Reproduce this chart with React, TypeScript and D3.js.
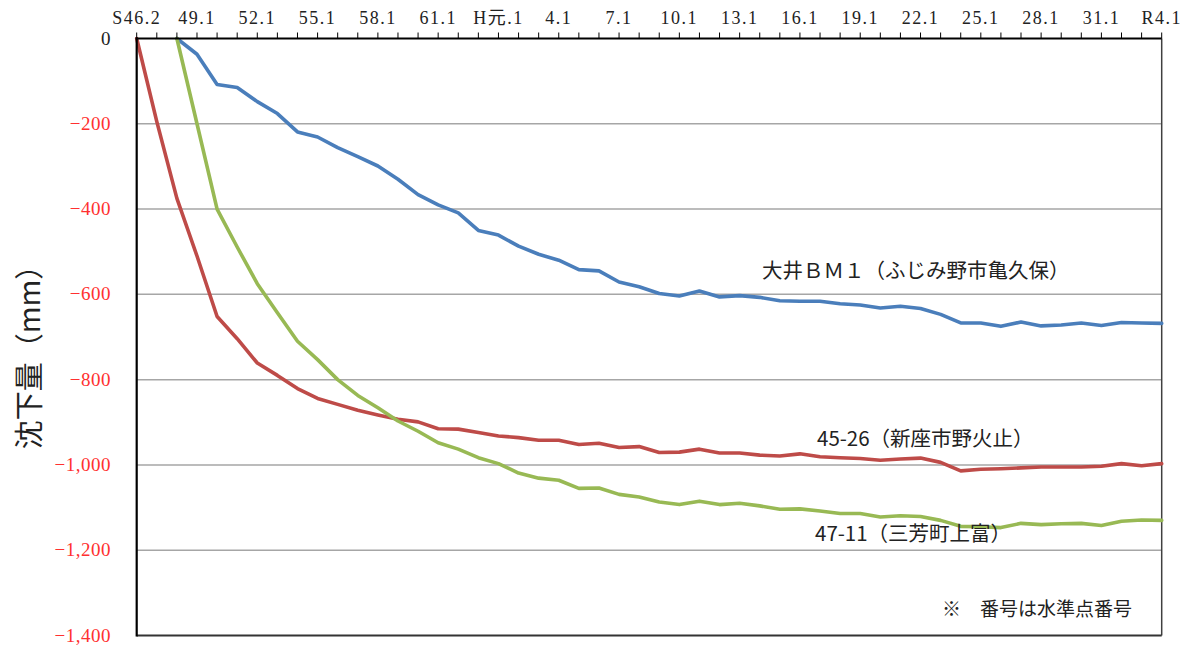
import React from "react";
import * as d3 from "d3";

// Category labels (one per survey year)
const categories: string[] = [
  "S46.2", "47.1", "48.1", "49.1", "50.1", "51.1", "52.1", "53.1", "54.1", "55.1",
  "56.1", "57.1", "58.1", "59.1", "60.1", "61.1", "62.1", "63.1", "H元.1", "2.1",
  "3.1", "4.1", "5.1", "6.1", "7.1", "8.1", "9.1", "10.1", "11.1", "12.1",
  "13.1", "14.1", "15.1", "16.1", "17.1", "18.1", "19.1", "20.1", "21.1", "22.1",
  "23.1", "24.1", "25.1", "26.1", "27.1", "28.1", "29.1", "30.1", "31.1", "R2.1",
  "R3.1", "R4.1",
];

// 大井ＢＭ１（ふじみ野市亀久保）
const seriesOi: (number | null)[] = [
  null, null, 0, -37, -108, -115, -148, -176, -219, -231,
  -256, -277, -299, -330, -366, -390, -409, -450, -461, -487,
  -506, -520, -542, -545, -571, -582, -598, -604, -592, -606,
  -603, -607, -615, -616, -616, -622, -625, -632, -628, -633,
  -647, -667, -667, -675, -665, -674, -672, -667, -673, -666,
  -667, -668,
];

// 45-26（新座市野火止）
const seriesNiiza: (number | null)[] = [
  0, -195, -375, -510, -652, -704, -761, -790, -821, -844,
  -858, -872, -883, -893, -899, -915, -916, -924, -932, -936,
  -942, -942, -952, -949, -959, -957, -971, -970, -963, -972,
  -972, -977, -979, -974, -981, -983, -985, -989, -986, -984,
  -994, -1014, -1010, -1009, -1007, -1005, -1005, -1005, -1003, -997,
  -1002, -997,
];

// 47-11（三芳町上富）
const seriesMiyoshi: (number | null)[] = [
  null, null, 0, -200, -400, -489, -575, -643, -710, -753,
  -800, -837, -866, -897, -921, -948, -963, -983, -997, -1019,
  -1031, -1036, -1055, -1054, -1069, -1075, -1087, -1093, -1085, -1093,
  -1090, -1096, -1104, -1103, -1108, -1114, -1114, -1122, -1119, -1121,
  -1130, -1144, -1145, -1147, -1137, -1140, -1138, -1137, -1142, -1132,
  -1129, -1130,
];

const yTicks: number[] = [0, -200, -400, -600, -800, -1000, -1200, -1400];
const gridValues: number[] = [-200, -400, -600, -800, -1000, -1200];

const seriesLabels: string[] = [
  "大井ＢＭ１（ふじみ野市亀久保）",
  "45-26（新座市野火止）",
  "47-11（三芳町上富）",
];

const W = 1190;
const H = 649;
const left = 136.7;
const right = 1161.7;
const top = 38.5;
const bottom = 635.5;

export default function App() {
  const x = d3.scalePoint<number>().domain(categories.map((_, i) => i)).range([left, right]);
  const y = d3.scaleLinear().domain([-1400, 0]).range([bottom, top]);
  const fmt = d3.format(",");

  const line = d3
    .line<number | null>()
    .defined((d) => d !== null)
    .x((_, i) => x(i) as number)
    .y((d) => y(d as number));

  const series = [
    { data: seriesOi, color: "#4a7ebb" },
    { data: seriesNiiza, color: "#be4b48" },
    { data: seriesMiyoshi, color: "#98b954" },
  ];

  const serif = "'Liberation Serif', 'Noto Sans CJK JP', serif";
  const cjk = "'Noto Sans CJK JP', sans-serif";

  return (
    <svg
      width={W}
      height={H}
      style={{ position: "absolute", left: 0, top: 0, background: "#fff" }}
    >
      <rect x={0} y={0} width={W} height={H} fill="#fff" />
      {/* gridlines */}
      {gridValues.map((v) => (
        <line key={v} x1={left} x2={right} y1={y(v)} y2={y(v)} stroke="#a6a6a6" strokeWidth={1.5} />
      ))}
      {/* plot border right & bottom */}
      <line x1={right} x2={right} y1={top} y2={bottom} stroke="#404040" strokeWidth={1.5} />
      <line x1={left} x2={right} y1={bottom} y2={bottom} stroke="#333" strokeWidth={2} />

      {/* series lines */}
      {series.map((s, k) => (
        <path
          key={k}
          d={line(s.data) || ""}
          fill="none"
          stroke={s.color}
          strokeWidth={3.6}
          strokeLinejoin="round"
          strokeLinecap="round"
        />
      ))}

      {/* axes */}
      <line x1={left} x2={left} y1={top - 1} y2={bottom + 1} stroke="#000" strokeWidth={2.2} />
      <line x1={left - 1} x2={right} y1={top} y2={top} stroke="#000" strokeWidth={2.2} />
      {categories.map((_, i) => (
        <line key={i} x1={x(i)} x2={x(i)} y1={top} y2={top - 6} stroke="#000" strokeWidth={1} />
      ))}
      {categories.map((c, i) =>
        i % 3 === 0 ? (
          <text
            key={c}
            x={x(i)}
            y={24}
            textAnchor="middle"
            fontFamily={serif}
            fontSize={18}
            letterSpacing={1.5}
            fill="#222"
          >
            {c}
          </text>
        ) : null
      )}

      {/* y tick labels */}
      {yTicks.map((v) => (
        <text
          key={v}
          x={111}
          y={y(v) + 6}
          textAnchor="end"
          fontFamily={serif}
          fontSize={19}
          letterSpacing={0.5}
          fill={v === 0 ? "#222" : "#ff3030"}
        >
          {fmt(v)}
        </text>
      ))}

      {/* y axis title */}
      <text
        transform={`translate(40, 350) rotate(-90)`}
        textAnchor="middle"
        fontFamily={cjk}
        fontSize={29}
        fill="#222"
      >
        沈下量（mm）
      </text>

      {/* series labels */}
      <text x={762} y={278} fontFamily={cjk} fontSize={20.5} fill="#222">
        {seriesLabels[0]}
      </text>
      <text x={817} y={446} fontFamily={cjk} fontSize={20.5} fill="#222">
        {seriesLabels[1]}
      </text>
      <text x={815} y={541} fontFamily={cjk} fontSize={20.5} fill="#222">
        {seriesLabels[2]}
      </text>

      {/* note */}
      <text x={942} y={616} fontFamily={cjk} fontSize={19} fill="#222">
        ※　番号は水準点番号
      </text>
    </svg>
  );
}
